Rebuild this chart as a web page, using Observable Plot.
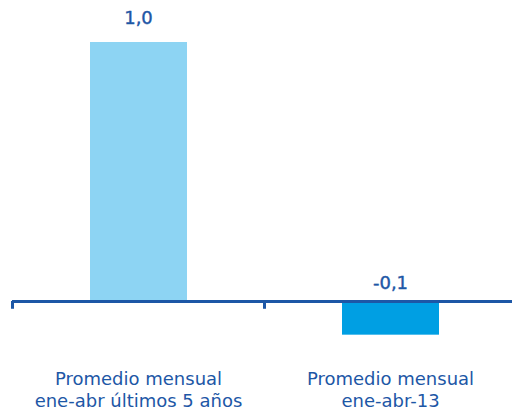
<!DOCTYPE html>
<html>
<head>
<meta charset="utf-8">
<script src="https://cdn.jsdelivr.net/npm/d3@7"></script>
<script src="https://cdn.jsdelivr.net/npm/@observablehq/plot@0.6"></script>
<style>
  html, body { margin: 0; padding: 0; background: #fff; }
  #chart svg { display: block; }
</style>
</head>
<body>
<div id="chart"></div>
<script>
const categories = ["Promedio mensual\nene-abr últimos 5 años", "Promedio mensual\nene-abr-13"];
const values = [1.0, -0.13];
const barColors = ["#8DD4F3", "#009FE3"];

const data = categories.map((c, i) => ({cat: c, value: values[i], color: barColors[i]}));
const fmt = v => d3.format(".1f")(v).replace(".", ",").replace("\u2212", "-");
const textColor = "#1D57A6";
const font = "'DejaVu Sans', sans-serif";

const chart = Plot.plot({
  width: 512,
  height: 418,
  marginLeft: 12,
  marginRight: 0,
  marginTop: 0,
  marginBottom: 58,
  style: {fontFamily: font, background: "#fff"},
  x: {domain: categories, range: [12, 516], padding: 0, axis: null},
  y: {domain: [0, 1], range: [301, 42], axis: null},
  color: {type: "identity"},
  marks: [
    Plot.barY(data, {x: "cat", y: "value", fill: "color", insetLeft: 78, insetRight: 77}),
    Plot.ruleY([0], {stroke: textColor, strokeWidth: 3}),
    Plot.ruleX(categories, {x: d => d, y1: 0, y2: -0.03, dx: -126, stroke: textColor, strokeWidth: 3}),
    Plot.text(data.filter(d => d.value >= 0), {x: "cat", y: "value", text: d => fmt(d.value), dy: -24, fill: textColor, stroke: textColor, strokeWidth: 0.4, fontSize: 18, fontFamily: font}),
    Plot.text(data.filter(d => d.value < 0), {x: "cat", y: 0, text: d => fmt(d.value), dy: -18, fill: textColor, stroke: textColor, strokeWidth: 0.4, fontSize: 18, fontFamily: font}),
    Plot.axisX({domain: categories, anchor: "bottom", tickSize: 0, tickPadding: 10, fontSize: 18, lineHeight: 1.17, fill: textColor, color: textColor, stroke: textColor, strokeWidth: 0.4, label: null, fontFamily: font})
  ]
});
document.getElementById("chart").appendChild(chart);
</script>
</body>
</html>
